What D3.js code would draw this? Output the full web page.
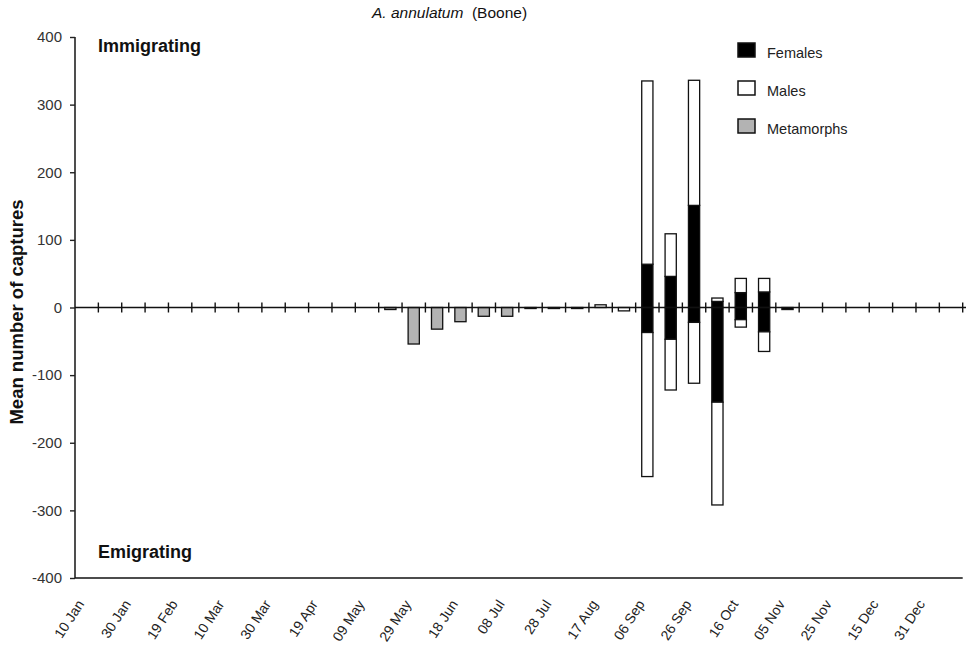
<!DOCTYPE html>
<html>
<head>
<meta charset="utf-8">
<script src="https://cdn.jsdelivr.net/npm/d3@7"></script>
<style>
  html, body { margin: 0; padding: 0; background: #fff; }
  svg { display: block; font-family: "Liberation Sans", Arial, sans-serif; }
</style>
</head>
<body>
<svg id="chart" width="967" height="646"></svg>
<script>
// Ten-day sampling periods (38 bands); every other band carries a date label.
const bandCount = 38;
const tickLabels = ["10 Jan", "30 Jan", "19 Feb", "10 Mar", "30 Mar", "19 Apr", "09 May",
  "29 May", "18 Jun", "08 Jul", "28 Jul", "17 Aug", "06 Sep", "26 Sep", "16 Oct",
  "05 Nov", "25 Nov", "15 Dec", "31 Dec"];

// Mean captures per period. "In" = immigrating (drawn upward), "Out" = emigrating (drawn downward).
const femalesIn = [0,0,0,0,0,0,0,0,0,0,0,0,0,0,0,0,0,0,0,0,0,0,0,0, 64, 46,151,  9, 22, 23,0,0,0,0,0,0,0,0];
const malesIn   = [0,0,0,0,0,0,0,0,0,0,0,0,0,0,0,0,0,0,0,0,0,0,4,0,271, 63,185,  5, 21, 20,0,0,0,0,0,0,0,0];
const metaIn    = [0,0,0,0,0,0,0,0,0,0,0,0,0,0,0,0,0,0,0,0,0,0,0,0,  0,  0,  0,  0,  0,  0,0,0,0,0,0,0,0,0];
const femalesOut= [0,0,0,0,0,0,0,0,0,0,0,0,0,0,0,0,0,0,0,0,0,0,0,0, 37, 47, 22,140, 18, 36,3,0,0,0,0,0,0,0];
const malesOut  = [0,0,0,0,0,0,0,0,0,0,0,0,0,0,0,0,0,0,0,0,0,0,0,5,213, 75, 90,152, 11, 29,0,0,0,0,0,0,0,0];
const metaOut   = [0,0,0,0,0,0,0,0,0,0,0,0,0,3,54,32,21,13,13,1.5,1.5,1.5,0,0,0,0,0,0,0,0,0,0,0,0,0,0,0,0];

const yTicks = [400, 300, 200, 100, 0, -100, -200, -300, -400];

const groups = [
  { name: "Females",    fill: "#000000" },
  { name: "Males",      fill: "#ffffff" },
  { name: "Metamorphs", fill: "#b3b3b3" }
];

const svg = d3.select("#chart");
const plotLeft = 75, plotRight = 962.7, plotTop = 37, plotBottom = 578;

const x = d3.scaleBand().domain(d3.range(bandCount)).range([plotLeft, plotRight]).padding(0);
const y = d3.scaleLinear().domain([-400, 400]).range([plotBottom, plotTop]);
const barW = x.bandwidth() * 0.48;

// Stack each period: females nearest the zero line, then males, then metamorphs.
const segments = [];
for (let i = 0; i < bandCount; i++) {
  const upper = [femalesIn[i], malesIn[i], metaIn[i]];
  const lower = [femalesOut[i], malesOut[i], metaOut[i]];
  let up = 0, down = 0;
  groups.forEach((g, k) => {
    if (upper[k] > 0) { segments.push({ i, g, y0: up, y1: up + upper[k] }); up += upper[k]; }
    if (lower[k] > 0) { segments.push({ i, g, y0: -down, y1: -(down + lower[k]) }); down += lower[k]; }
  });
}

svg.append("g").selectAll("rect").data(segments).join("rect")
  .attr("x", d => x(d.i) + (x.bandwidth() - barW) / 2)
  .attr("width", barW)
  .attr("y", d => y(Math.max(d.y0, d.y1)))
  .attr("height", d => Math.abs(y(d.y0) - y(d.y1)))
  .attr("fill", d => d.g.fill)
  .attr("stroke", "#111")
  .attr("stroke-width", 1.3);

// Y axis
const yAxis = svg.append("g").attr("transform", `translate(${plotLeft},0)`)
  .call(d3.axisLeft(y).tickValues(yTicks).tickSize(5).tickPadding(8).tickFormat(d => String(d)));
yAxis.select(".domain").attr("stroke", "#222").attr("stroke-width", 1.6).attr("d", `M0,${plotTop}V${plotBottom}`);
yAxis.selectAll(".tick line").attr("stroke", "#222").attr("stroke-width", 1.4);
yAxis.selectAll(".tick text").attr("font-size", 15).attr("fill", "#333")
  .attr("font-family", "Liberation Sans, Arial, sans-serif");

// Zero line with tick marks at every period boundary
const zeroG = svg.append("g");
zeroG.append("line").attr("x1", plotLeft).attr("x2", 966).attr("y1", y(0)).attr("y2", y(0))
  .attr("stroke", "#111").attr("stroke-width", 1.6);
zeroG.selectAll("line.tk").data(d3.range(1, bandCount + 1)).join("line").attr("class", "tk")
  .attr("x1", i => plotLeft + i * x.step()).attr("x2", i => plotLeft + i * x.step())
  .attr("y1", y(0) - 5).attr("y2", y(0) + 5)
  .attr("stroke", "#111").attr("stroke-width", 1.4);

// Bottom axis line with rotated period labels
svg.append("line").attr("x1", plotLeft).attr("x2", plotRight).attr("y1", plotBottom).attr("y2", plotBottom)
  .attr("stroke", "#111").attr("stroke-width", 1.6);
svg.append("g").selectAll("text").data(tickLabels).join("text")
  .attr("transform", (d, j) => `translate(${x(j * 2) + x.bandwidth() / 2 - 2},${plotBottom + 26}) rotate(-57)`)
  .attr("text-anchor", "end")
  .attr("font-size", 14)
  .attr("fill", "#222")
  .text(d => d);

// Axis title
svg.append("text")
  .attr("transform", `translate(23,312) rotate(-90)`)
  .attr("text-anchor", "middle")
  .attr("font-size", 18.5).attr("font-weight", "bold").attr("fill", "#111")
  .text("Mean number of captures");

// Chart title
const title = svg.append("text").attr("x", 372).attr("y", 18).attr("font-size", 15.5).attr("fill", "#111");
title.append("tspan").attr("font-style", "italic").text("A. annulatum");
title.append("tspan").text("\u00a0 (Boone)");

// Direction annotations
svg.append("text").attr("x", 98).attr("y", 52).attr("font-size", 18).attr("font-weight", "bold")
  .attr("fill", "#111").text("Immigrating");
svg.append("text").attr("x", 98).attr("y", 558).attr("font-size", 18).attr("font-weight", "bold")
  .attr("fill", "#111").text("Emigrating");

// Legend
const legend = svg.append("g").attr("transform", "translate(738,43)");
const rows = legend.selectAll("g").data(groups).join("g")
  .attr("transform", (d, k) => `translate(0,${k * 38})`);
rows.append("rect").attr("width", 17).attr("height", 14)
  .attr("fill", d => d.fill).attr("stroke", "#111").attr("stroke-width", 1.5);
rows.append("text").attr("x", 29).attr("y", 15).attr("font-size", 14.5).attr("fill", "#222")
  .text(d => d.name);
</script>
</body>
</html>
